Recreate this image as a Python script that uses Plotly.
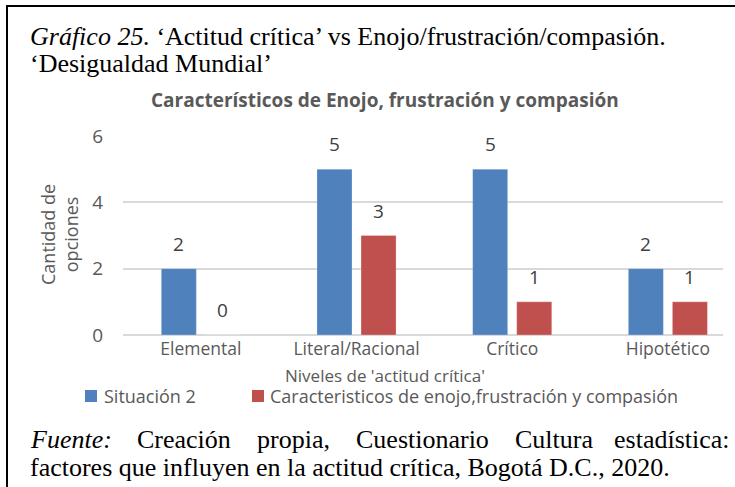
import plotly.graph_objects as go

# datos del gráfico
niveles = ["Elemental", "Literal/Racional", "Crítico", "Hipotético"]
situacion_2 = [2, 5, 5, 2]
caracteristicos = [0, 3, 1, 1]
series_names = ["Situación 2", "Caracteristicos de enojo,frustración y compasión"]
colors = ["#4F81BD", "#C0504D"]
y_ticks = [0, 2, 4, 6]

W, H = 735, 487
PL, PR, PT, PB = 123, 723, 136, 335   # plot area in pixels


def px(x):
    return (x - PL) / (PR - PL)


def py(y):
    return (PB - y) / (PB - PT)


sans = "Open Sans"
serif = "Liberation Serif"
gray = "#595959"

bar_w = 0.225
offsets = [-0.254, 0.029]

fig = go.Figure()
for vals, name, color, off in zip([situacion_2, caracteristicos], series_names, colors, offsets):
    fig.add_trace(go.Bar(
        x=list(range(len(niveles))),
        y=vals,
        name=name,
        width=bar_w,
        offset=off,
        marker_color=color,
        marker_line=dict(color="rgba(255,255,255,0.5)", width=0.5),
        showlegend=False,
    ))
    # etiquetas de datos
    for i, v in enumerate(vals):
        fig.add_annotation(
            x=i + off + bar_w / 2, y=v, xref="x", yref="y",
            text=str(v), showarrow=False, yshift=25,
            xanchor="center", yanchor="middle",
            font=dict(family=sans, size=19, color="#404040"),
        )

fig.update_layout(
    width=W, height=H, autosize=False,
    margin=dict(l=PL, r=W - PR, t=PT, b=H - PB, pad=0),
    paper_bgcolor="white", plot_bgcolor="white",
    barmode="overlay",
    font=dict(family=sans, color=gray),
)

fig.update_xaxes(
    range=[-0.5, 3.354],
    tickvals=list(range(len(niveles))),
    ticktext=niveles,
    tickfont=dict(family=sans, size=17.5, color=gray),
    showgrid=False, zeroline=False, showline=False, ticks="",
    ticklabelstandoff=1,
)
fig.update_yaxes(
    range=[0, 6],
    tickvals=y_ticks,
    tickfont=dict(family=sans, size=19, color=gray),
    showgrid=True, gridcolor="#D9D9D9", gridwidth=1.5,
    zeroline=True, zerolinecolor="#D9D9D9", zerolinewidth=1.5,
    showline=False, ticks="",
    ticklabelstandoff=19,
)

ann = []
serif_font = dict(family=serif, size=26, color="black")

# encabezado del gráfico
ann.append(dict(x=px(28), y=py(36), text="<i>Gráfico 25.</i> ‘Actitud crítica’ vs Enojo/frustración/compasión.",
                xanchor="left", yanchor="middle", font=serif_font))
ann.append(dict(x=px(28), y=py(63), text="‘Desigualdad Mundial’",
                xanchor="left", yanchor="middle", font=serif_font))

# título
ann.append(dict(x=px(385), y=py(100), text="<b>Característicos de Enojo, frustración y compasión</b>",
                xanchor="center", yanchor="middle", font=dict(family=sans, size=19, color=gray)))

# título del eje y
ann.append(dict(x=px(59), y=py(235), text="Cantidad de<br>opciones", textangle=-90,
                xanchor="center", yanchor="middle", font=dict(family=sans, size=18, color=gray)))

# título del eje x
ann.append(dict(x=px(385), y=py(375), text="Niveles de 'actitud crítica'",
                xanchor="center", yanchor="middle", font=dict(family=sans, size=17, color=gray)))

# leyenda
legend_pos = [(85, 102), (252, 268)]
shapes = []
for (sx, tx), name, color in zip(legend_pos, series_names, colors):
    shapes.append(dict(type="rect", xref="paper", yref="paper",
                       x0=px(sx), x1=px(sx + 12), y0=py(402), y1=py(390),
                       fillcolor=color, line_width=0))
    ann.append(dict(x=px(tx), y=py(396), text=name, xanchor="left", yanchor="middle",
                    font=dict(family=sans, size=18, color=gray)))

# fuente (justificada)
fuente_words = [("<i>Fuente:</i>", 28), ("Creación", 135), ("propia,", 255),
                ("Cuestionario", 354), ("Cultura", 513)]
for w, x in fuente_words:
    ann.append(dict(x=px(x), y=py(439), text=w, xanchor="left", yanchor="middle", font=serif_font))
ann.append(dict(x=px(732), y=py(439), text="estadística:", xanchor="right", yanchor="middle",
                font=serif_font))
ann.append(dict(x=px(28), y=py(467), text="factores que influyen en la actitud crítica, Bogotá D.C., 2020.",
                xanchor="left", yanchor="middle", font=serif_font))

for a in ann:
    a.setdefault("xref", "paper")
    a.setdefault("yref", "paper")
    a["showarrow"] = False
    fig.add_annotation(**a)

# marco
shapes.append(dict(type="line", xref="paper", yref="paper", x0=px(7), x1=px(7), y0=py(5), y1=py(H),
                   line=dict(color="black", width=2)))
shapes.append(dict(type="line", xref="paper", yref="paper", x0=px(6), x1=px(W), y0=py(6), y1=py(6),
                   line=dict(color="black", width=2)))
fig.update_layout(shapes=shapes)

fig.write_html("out.html", config={"displayModeBar": False},
               post_script="document.body.style.margin='0';")
